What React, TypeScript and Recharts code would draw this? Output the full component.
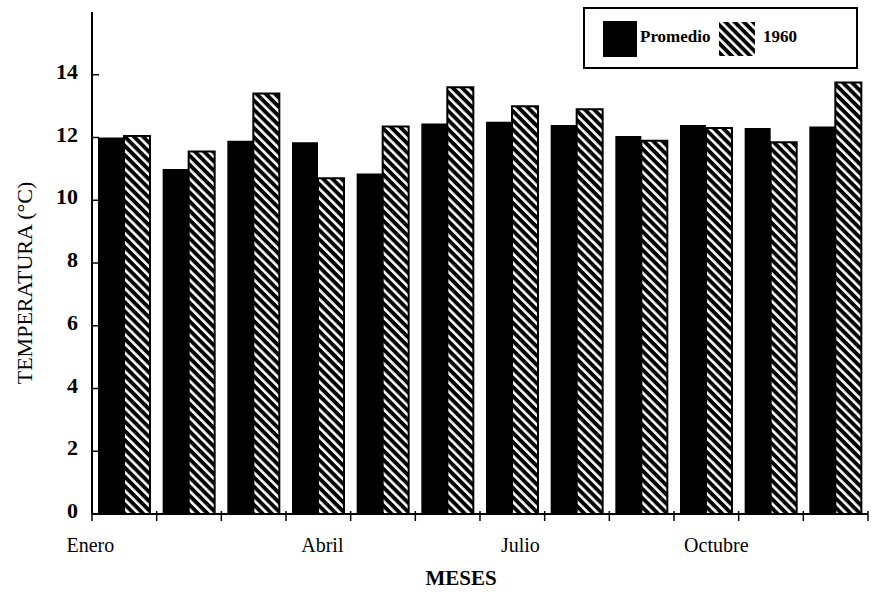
import { BarChart, Bar, XAxis, YAxis } from 'recharts';

const months = [
  'Enero', 'Febrero', 'Marzo', 'Abril', 'Mayo', 'Junio',
  'Julio', 'Agosto', 'Septiembre', 'Octubre', 'Noviembre', 'Diciembre',
];
const shownMonths = ['Enero', 'Abril', 'Julio', 'Octubre'];
const promedio = [12.0, 11.0, 11.9, 11.85, 10.85, 12.45, 12.5, 12.4, 12.05, 12.4, 12.3, 12.35];
const anio1960 = [12.05, 11.55, 13.4, 10.7, 12.35, 13.6, 13.0, 12.9, 11.9, 12.3, 11.85, 13.75];
const yTicks = [0, 2, 4, 6, 8, 10, 12, 14];

const data = months.map((m, i) => ({ mes: m, promedio: promedio[i], y1960: anio1960[i] }));

// the old chart did not center the month labels exactly
const labelShift: Record<string, number> = { Enero: -34, Abril: 4, Julio: 8, Octubre: 10 };

const FONT = '"Liberation Serif", "Times New Roman", serif';

const MonthTick = (props: any) => {
  const { x, y, payload } = props;
  const half = payload?.offset ?? 32.3;
  const isLast = payload?.value === months[months.length - 1];
  const name = payload?.value as string;
  return (
    <g>
      <line x1={x - half} x2={x - half} y1={y - 3} y2={y + 7} stroke="#000" strokeWidth={1.5} />
      {isLast && <line x1={x + half} x2={x + half} y1={y - 3} y2={y + 7} stroke="#000" strokeWidth={1.5} />}
      {shownMonths.includes(name) && (
        <text x={x + (labelShift[name] ?? 0)} y={y + 38} textAnchor="middle" fontFamily={FONT} fontSize={20} fill="#000">
          {name}
        </text>
      )}
    </g>
  );
};

const TempTick = (props: any) => {
  const { x, y, payload } = props;
  return (
    <g>
      <line x1={x} x2={x + 7} y1={y} y2={y} stroke="#000" strokeWidth={1.5} />
      <text x={x - 14} y={y + 4} textAnchor="end" fontFamily={FONT} fontSize={22} fontWeight="bold" fill="#000">
        {payload.value}
      </text>
    </g>
  );
};

const Hatch = ({ id }: { id: string }) => (
  <pattern id={id} width={6.5} height={6.5} patternUnits="userSpaceOnUse" patternTransform="rotate(-45)">
    <rect width={6.5} height={6.5} fill="#000" />
    <rect x={0} width={2.6} height={6.5} fill="#fff" />
  </pattern>
);

export default function App() {
  return (
    <div style={{ position: 'absolute', left: 0, top: 0, width: 873, height: 594, background: '#fff' }}>
      <BarChart
        width={873}
        height={594}
        data={data}
        margin={{ top: 12, right: 5, left: 0, bottom: 0 }}
        barGap={0}
        barSize={26}
      >
        <defs>
          <Hatch id="hatch-bar" />
        </defs>
        <XAxis
          dataKey="mes"
          height={80}
          interval={0}
          tickLine={false}
          tickSize={0}
          tickMargin={0}
          axisLine={{ stroke: '#000', strokeWidth: 2 }}
          tick={<MonthTick />}
          label={{
            content: () => (
              <text x={461} y={585} textAnchor="middle" fontFamily={FONT} fontSize={21} fontWeight="bold" fill="#000">
                MESES
              </text>
            ),
          }}
        />
        <YAxis
          width={92}
          domain={[0, 16]}
          ticks={yTicks}
          interval={0}
          tickLine={false}
          tickSize={0}
          tickMargin={0}
          axisLine={{ stroke: '#000', strokeWidth: 2 }}
          tick={<TempTick />}
          label={{
            content: () => (
              <text
                transform="translate(32, 283) rotate(-90)"
                textAnchor="middle"
                fontFamily={FONT}
                fontSize={22}
                fill="#000"
              >
                TEMPERATURA (°C)
              </text>
            ),
          }}
        />
        <Bar dataKey="promedio" fill="#000" isAnimationActive={false} />
        <Bar dataKey="y1960" fill="url(#hatch-bar)" stroke="#000" strokeWidth={2} isAnimationActive={false} />
      </BarChart>

      <div
        style={{
          position: 'absolute', left: 583, top: 7, width: 275, height: 62,
          border: '2px solid #000', boxSizing: 'border-box', background: '#fff',
          fontFamily: FONT, fontSize: 17, fontWeight: 'bold', color: '#000',
        }}
      >
        <div style={{ position: 'absolute', left: 18, top: 12, width: 34, height: 36, background: '#000' }} />
        <span style={{ position: 'absolute', left: 55, top: 18 }}>Promedio</span>
        <svg style={{ position: 'absolute', left: 134, top: 13 }} width={36} height={34}>
          <defs>
            <Hatch id="hatch-legend" />
          </defs>
          <rect x={0} y={0} width={36} height={34} fill="url(#hatch-legend)" />
        </svg>
        <span style={{ position: 'absolute', left: 178, top: 18 }}>1960</span>
      </div>
    </div>
  );
}
